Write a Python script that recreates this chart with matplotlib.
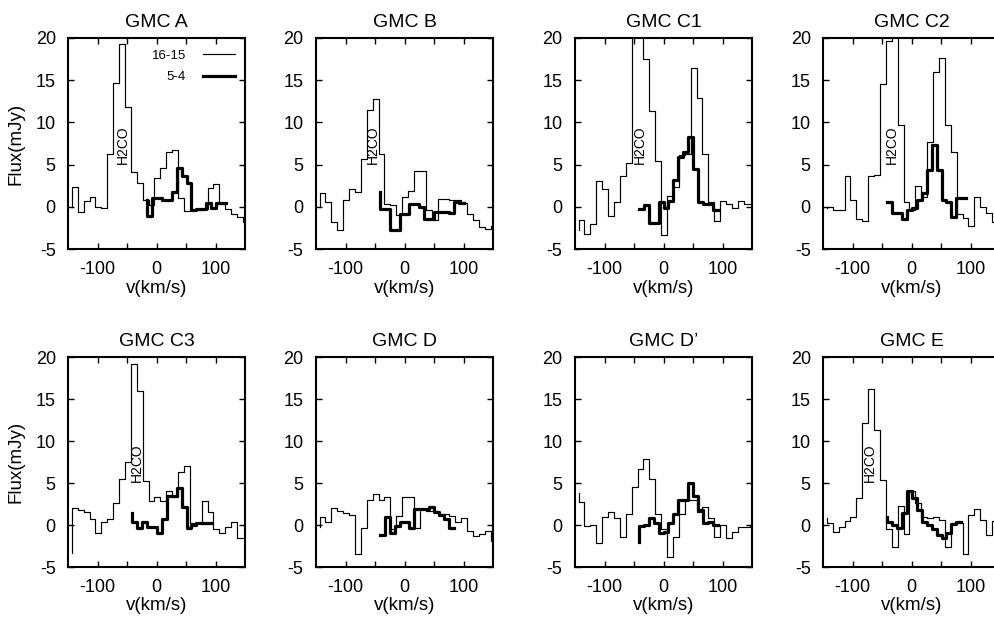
import numpy as np
import matplotlib
matplotlib.use("Agg")
import matplotlib.pyplot as plt

plt.rcParams['font.family'] = ['Liberation Sans', 'DejaVu Sans']
plt.rcParams['axes.unicode_minus'] = False

# ---------------- data ----------------
titles = ['GMC A', 'GMC B', 'GMC C1', 'GMC C2', 'GMC C3', 'GMC D', 'GMC D\u2019', 'GMC E']

# channel velocities (km/s) of the 16-15 (thin) and 5-4 (thick) spectra
v_1615 = np.arange(-144, 157, 10)
v_54 = np.round(-42 + 8.4 * np.arange(21), 1)

# 16-15 spectra (mJy)
f1615_A = [0, 2.4, -0.6, 0.7, 1.2, 0.0, -0.1, 6.3, 14.7, 19.3, 11.8, 4.1, 2.8, 0.8, 0.2, 3.4,
           4.6, 6.5, 6.7, 1.0, -0.5, -0.4, -0.4, -0.3, 2.2, 2.7, 0.3, -0.3, -0.9, -1.2, -1.8]
f1615_B = [0, 1.6, 0.6, -1.8, -2.7, 0.8, 2.1, 1.8, 5.7, 11.5, 12.8, 6.2, 0.3, 0.2, -1.0, 1.2,
           1.9, 4.3, 4.3, -0.4, -1.6, 0.9, 0.9, 0.8, 0.8, 0.4, -0.8, -1.6, -2.4, -2.6, -2.3]
f1615_C1 = [-2.8, -1.6, -3.2, -2.0, 3.0, 2.1, -1.1, 0.6, 3.6, 5.2, 25, 25, 17.5, 11.4, 5.4, -3.3,
            1.3, 2.4, 6.1, 6.3, 16.4, 12.9, 6.2, 0.6, -1.7, 0.7, 0.3, -0.2, 0.7, 0.3, 0.3]
f1615_C2 = [-0.2, 0.0, -0.4, -0.4, 3.7, 0.8, -1.5, -1.7, 3.6, 3.8, 14.6, 19.7, 25, 9.7, 0.6, -0.4,
            2.5, 1.2, 7.7, 16.0, 17.6, 9.7, 6.5, -0.8, -1.3, -2.3, 1.2, 0.0, -0.7, -1.8, -1.5]
f1615_C3 = [-3.3, 2.0, 1.8, 1.6, 0.7, -0.9, 0.4, 0.7, 2.6, 5.5, 7.5, 19.2, 15.9, 5.2, 2.8, 3.3,
            2.9, 4.0, 3.3, 6.3, 7.0, 0.2, 0.2, 2.8, 1.5, -0.5, -0.9, -0.2, 0.4, -1.6, -1.6]
f1615_D = [-0.2, 0.9, 0.3, 2.0, 1.7, 1.4, 1.2, -3.4, -0.3, 3.0, 3.7, 3.0, 3.3, -0.5, 1.1, 3.3,
           3.3, -0.4, 1.9, 1.7, 1.7, 1.3, 1.3, 1.1, 0.3, 0.8, -0.7, -1.3, -1.1, -0.7, -1.9]
f1615_Dp = [3.8, 2.7, -0.1, 0.0, -2.1, 1.0, 1.6, 0.8, -1.4, 1.3, 4.5, 6.7, 7.8, 5.5, 1.3, -0.5,
            -3.8, -1.4, 1.3, 3.0, 3.0, 1.5, 2.2, 0.8, -1.4, 0.0, -1.6, -0.8, -0.2, -0.2, 0.0]
f1615_E = [0.8, 0.2, -0.8, -0.2, 0.5, 1.0, 3.2, 12.1, 16.2, 11.3, 5.3, -0.5, -2.6, 2.3, -1.1, 4.0,
           2.6, 1.0, 0.8, 1.0, 0.6, -2.6, 0.2, 0.2, -3.4, 1.2, 1.9, 0.6, -1.2, 0.5, 0.0]

# 5-4 spectra (mJy); first channel index on the v_54 grid
f54_A = [0.8, -1.1, 1.0, 1.0, 0.8, 0.8, 1.8, 4.6, 3.6, 2.8, -0.4, -0.3, -0.3, 0.4, -0.2, 0.5, 0.5]
f54_B = [1.8, -0.3, -0.3, -2.7, -2.7, -0.8, -0.8, 0.3, 0.3, 0.0, -1.5, -1.5, -0.6, -0.6, -0.6,
         -0.7, 0.6, 0.4]
f54_C1 = [-0.3, -0.3, 0.2, -1.9, -1.9, 0.6, -0.2, 0.7, 3.2, 5.9, 6.5, 8.3, 4.5, 0.6, 0.3, 0.3, -0.4]
f54_C2 = [0.6, 0.6, -0.7, -0.7, -1.5, -0.4, -0.2, 0.8, 1.6, 4.4, 7.3, 4.4, 0.8, 0.6, -1.2, 1.0, 1.1]
f54_C3 = [1.4, 0.3, -0.4, 0.4, -0.2, -0.2, -0.9, 0.7, 3.4, 3.4, 4.4, 2.1, -0.4, 0.0, 0.2, 0.2, 0.2]
f54_D = [-1.2, -1.2, 0.9, -0.9, -0.1, 0.3, 0.3, -0.4, 1.9, 1.9, 1.9, 2.1, 1.5, 1.2, 0.7, -0.3]
f54_Dp = [-2.0, -0.1, 0.0, 0.8, 0.2, -0.9, -0.8, 0.2, 1.3, 3.0, 3.0, 5.0, 3.4, 1.8, 0.2, 0.4, 0.0]
f54_E = [1.0, 0.4, 0.0, -0.4, 1.4, 4.0, 3.2, 1.8, 0.4, 0.0, -0.5, -1.2, -1.6, -1.0, 0.1, 0.3]
start_54 = [3, 0, 0, 0, 0, 0, 0, 0]

thin_all = [f1615_A, f1615_B, f1615_C1, f1615_C2, f1615_C3, f1615_D, f1615_Dp, f1615_E]
thick_all = [f54_A, f54_B, f54_C1, f54_C2, f54_C3, f54_D, f54_Dp, f54_E]

# H2CO label velocities (None = no label)
h2co_v = [-57, -53, -40, -34, -34, None, None, -71]

# ---------------- layout ----------------
W, H = 994, 620
fig = plt.figure(figsize=(W / 100, H / 100), dpi=100)
lefts = [68.3, 316, 575, 823.3]
axw = 177
rows = [(38, 249), (357, 567)]

for i, name in enumerate(titles):
    r, c = divmod(i, 4)
    top, bot = rows[r]
    ax = fig.add_axes([lefts[c] / W, 1 - bot / H, axw / W, (bot - top) / H])
    thin = thin_all[i]
    thick = thick_all[i]
    s = start_54[i]
    l1, = ax.step(v_1615[:len(thin)], thin, where='pre', color='black', lw=0.85)
    l2, = ax.step(v_54[s:s + len(thick)], thick, where='pre', color='black', lw=2.3)
    ax.set_xlim(-150, 150)
    ax.set_ylim(-5, 20)
    ax.set_xticks([-100, -50, 0, 50, 100])
    ax.set_xticklabels(['-100', '', '0', '', '100'])
    ax.set_yticks([-5, 0, 5, 10, 15, 20])
    ax.set_yticklabels(['-5', '0', '5', '10', '15', '20'])
    ax.tick_params(direction='in', top=True, right=True, length=4, width=1.0,
                   labelsize=13, pad=9)
    for sp in ax.spines.values():
        sp.set_linewidth(1.5)
    ax.set_title(name, fontsize=14, pad=8)
    ax.set_xlabel('v(km/s)', fontsize=13.5)
    ax.xaxis.set_label_coords(0.5, -0.145)
    if c == 0:
        ax.set_ylabel('Flux(mJy)', fontsize=13.5)
        ax.yaxis.set_label_coords(-0.25, 0.5)
    if h2co_v[i] is not None:
        ax.text(h2co_v[i], 5.1, 'H2CO', rotation=90, ha='center', va='bottom', fontsize=10)
    if i == 0:
        ax.legend([l1, l2], ['16-15', '5-4'], loc='upper right', bbox_to_anchor=(0.94, 0.945),
                  frameon=False, markerfirst=False, fontsize=9.5, handlelength=2.4,
                  handletextpad=1.3, labelspacing=0.7, borderpad=0, borderaxespad=0)

fig.savefig('out.png', dpi=100)
